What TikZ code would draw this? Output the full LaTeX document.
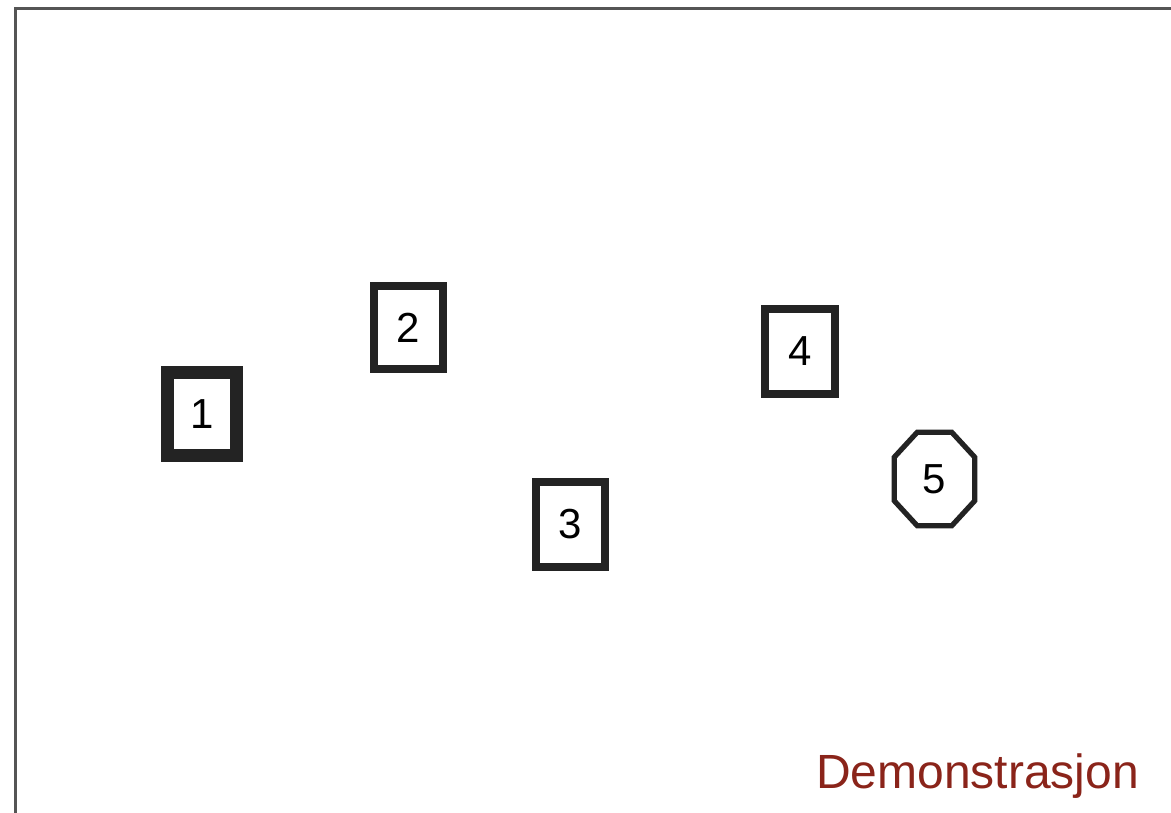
\documentclass[tikz,border=0pt]{standalone}
\usepackage{xcolor}
\usepackage{fontspec}
\setmainfont{Liberation Sans}
\usepackage{tikz}
\usetikzlibrary{calc}

\definecolor{demored}{RGB}{138,36,26}
\definecolor{framegray}{RGB}{85,85,85}

\begin{document}
\begin{tikzpicture}[x=0.75pt,y=0.75pt,yscale=-1,xscale=1,
    numbox/.style={draw={rgb,255:red,35;green,35;blue,35},inner sep=0pt,minimum width=51.75pt,minimum height=62.25pt,font=\fontsize{31.5}{31.5}\selectfont,line width=6pt},
    heavybox/.style={numbox,line width=9.75pt},
    octline/.style={draw={rgb,255:red,35;green,35;blue,35},line width=3.9pt,line join=miter}]

    \useasboundingbox (0,0) rectangle (1171,813);

    % frame
    \draw [color=framegray, line width=2.25pt] (15.3,813) coordinate (fb) -- (15.3,9) coordinate (fc) -- (1171,9) coordinate (fr) ;

    % boxes
    \node [heavybox, minimum height=62.25pt] (b1) at (202,414) {1};
    \node [numbox] (b2) at (408.5,327.5) {2};
    \node [numbox, minimum height=63.75pt] (b3) at (570.5,524.5) {3};
    \node [numbox, minimum width=52.5pt, minimum height=63.75pt] (b4) at (800,351.5) {4};

    % octagon
    \node [inner sep=0pt, minimum width=60pt, minimum height=69.75pt, font=\fontsize{31.5}{31.5}\selectfont] (b5) at (934.5,479) {5};
    \draw [octline] ($(b5.north west)+(23,0)$) -- ($(b5.north east)+(-23,0)$) -- ($(b5.north east)+(0,25)$) -- ($(b5.south east)+(0,-25)$) -- ($(b5.south east)+(-23,0)$) -- ($(b5.south west)+(23,0)$) -- ($(b5.south west)+(0,-25)$) -- ($(b5.north west)+(0,25)$) -- cycle ;

    \draw (816,788) node [anchor=base west][inner sep=0pt][text=demored, font=\fontsize{36}{36}\selectfont] (demo) {Demonstrasjon};

\end{tikzpicture}
\end{document}
